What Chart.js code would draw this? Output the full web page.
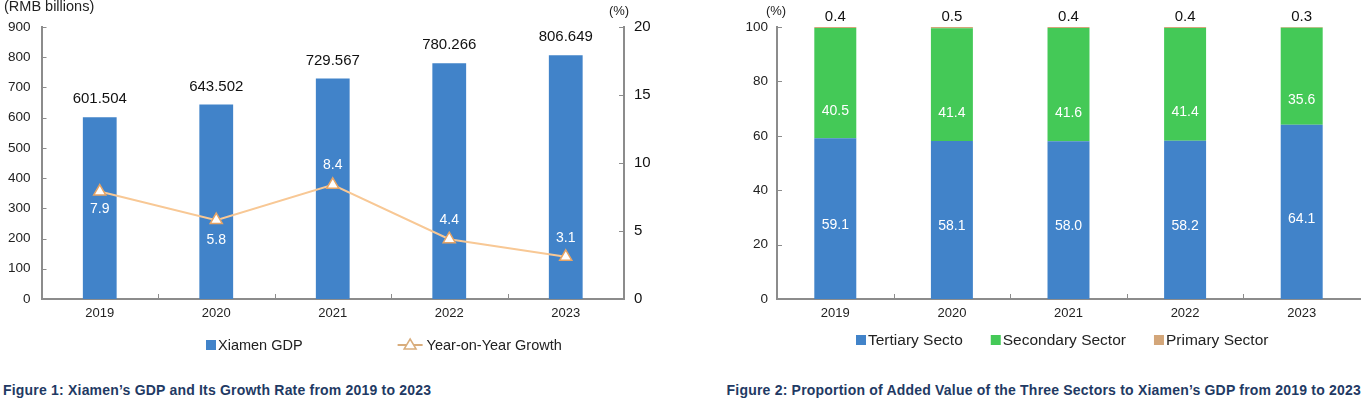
<!DOCTYPE html>
<html>
<head>
<meta charset="utf-8">
<script src="https://cdn.jsdelivr.net/npm/chart.js@4.4.1/dist/chart.umd.min.js"></script>
<style>
    html, body { margin: 0; padding: 0; background: #fff; width: 1362px; height: 399px; overflow: hidden; }
    body { font-family: "Liberation Sans", Arial, sans-serif; }
    #gdp-wrap { position: absolute; left: 0; top: 0; width: 680px; height: 362px; }
    #sector-wrap { position: absolute; left: 690px; top: 0; width: 672px; height: 362px; }
    .caption { position: absolute; top: 382px; font-weight: bold; font-size: 14px; letter-spacing: 0.2px; color: #1f3a64; white-space: nowrap; }
</style>
</head>
<body>
<div id="gdp-wrap"><canvas id="gdp-chart"></canvas></div>
<div id="sector-wrap"><canvas id="sector-chart"></canvas></div>
<div class="caption" style="left:3px">Figure 1: Xiamen’s GDP and Its Growth Rate from 2019 to 2023</div>
<div class="caption" style="right:1px">Figure 2: Proportion of Added Value of the Three Sectors to Xiamen’s GDP from 2019 to 2023</div>

<script>
const years = ['2019', '2020', '2021', '2022', '2023'];
const gdpValues = [601.504, 643.502, 729.567, 780.266, 806.649];
const growthValues = [7.9, 5.8, 8.4, 4.4, 3.1];
const gdpTicks = [0, 100, 200, 300, 400, 500, 600, 700, 800, 900];
const growthTicks = [0, 5, 10, 15, 20];
const tertiaryShare = [59.1, 58.1, 58.0, 58.2, 64.1];
const secondaryShare = [40.5, 41.4, 41.6, 41.4, 35.6];
const primaryShare = [0.4, 0.5, 0.4, 0.4, 0.3];
const shareTicks = [0, 20, 40, 60, 80, 100];

const BLUE = '#4183c9';
const GREEN = '#44c957';
const TAN = '#d3a679';
const LINE = '#f8c895';
const AXIS = '#8c8c8c';
const FONT = "'Liberation Sans', Arial, sans-serif";

Chart.defaults.font.family = FONT;
Chart.defaults.animation = false;

// short tick marks pointing into the plot, like the original
const innerTicks = {
    id: 'innerTicks',
    afterDraw(chart) {
        const ctx = chart.ctx;
        const area = chart.chartArea;
        ctx.save();
        ctx.strokeStyle = AXIS;
        ctx.lineWidth = 1;
        ctx.beginPath();
        Object.values(chart.scales).forEach(s => {
            if (s.axis === 'y') {
                const left = s.position === 'left';
                const x = left ? area.left : area.right;
                s.ticks.forEach((t, i) => {
                    const y = Math.round(s.getPixelForTick(i)) + 0.5;
                    ctx.moveTo(x, y);
                    ctx.lineTo(left ? x + 5 : x - 5, y);
                });
            } else {
                for (let i = 1; i < s.ticks.length; i++) {
                    const x = Math.round((s.getPixelForTick(i - 1) + s.getPixelForTick(i)) / 2) + 0.5;
                    ctx.moveTo(x, area.bottom);
                    ctx.lineTo(x, area.bottom - 5);
                }
            }
        });
        ctx.stroke();
        ctx.restore();
    }
};

// value labels, placement set per dataset in labelStyle
const valueLabels = {
    id: 'valueLabels',
    afterDatasetsDraw(chart) {
        const ctx = chart.ctx;
        chart.data.datasets.forEach((ds, di) => {
            const lab = ds.labelStyle;
            if (!lab) return;
            const meta = chart.getDatasetMeta(di);
            ctx.save();
            ctx.font = lab.font;
            ctx.fillStyle = lab.color;
            ctx.textAlign = 'center';
            ctx.textBaseline = 'middle';
            meta.data.forEach((el, i) => {
                let y;
                if (lab.mode === 'top') {
                    y = el.y - lab.offset;
                } else if (lab.mode === 'point') {
                    y = el.y + lab.offsets[i];
                } else {
                    y = el.y + (el.base - el.y) * lab.ratio;
                }
                ctx.fillText(ds.data[i].toFixed(lab.digits), el.x, y);
            });
            ctx.restore();
        });
    }
};

// legend and unit notes drawn at fixed spots
const sideText = {
    id: 'sideText',
    afterDraw(chart, args, opts) {
        const ctx = chart.ctx;
        ctx.save();
        ctx.textBaseline = 'middle';
        (opts.notes || []).forEach(n => {
            ctx.font = n.font;
            ctx.fillStyle = n.color;
            ctx.textAlign = n.align || 'left';
            ctx.fillText(n.text, n.x, n.y);
        });
        const lg = opts.legend;
        if (lg) {
            ctx.font = lg.font;
            ctx.textAlign = 'left';
            let x = lg.x;
            chart.data.datasets.forEach(ds => {
                if (ds.type === 'line') {
                    ctx.strokeStyle = '#d9ad7c';
                    ctx.lineWidth = 2;
                    ctx.beginPath();
                    ctx.moveTo(x, lg.y);
                    ctx.lineTo(x + 25, lg.y);
                    ctx.stroke();
                    ctx.fillStyle = '#fff';
                    ctx.lineWidth = 1.5;
                    ctx.beginPath();
                    ctx.moveTo(x + 12.5, lg.y - 6);
                    ctx.lineTo(x + 18.5, lg.y + 4);
                    ctx.lineTo(x + 6.5, lg.y + 4);
                    ctx.closePath();
                    ctx.fill();
                    ctx.stroke();
                    x += 29;
                } else {
                    ctx.fillStyle = ds.backgroundColor;
                    ctx.fillRect(x, lg.y - 5, 10, 10);
                    x += 12;
                }
                ctx.fillStyle = '#222';
                ctx.fillText(ds.label, x, lg.y + 1);
                x += ctx.measureText(ds.label).width + lg.gap;
            });
        }
        ctx.restore();
    }
};

const gdpCanvas = document.getElementById('gdp-chart');
new Chart(gdpCanvas, {
    data: {
        labels: years,
        datasets: [{
            type: 'bar',
            label: 'Xiamen GDP',
            data: gdpValues,
            yAxisID: 'yGdp',
            backgroundColor: BLUE,
            barPercentage: 0.29,
            categoryPercentage: 1,
            order: 1,
            labelStyle: { mode: 'top', offset: 18, font: '15px ' + FONT, color: '#111', digits: 3 }
        }, {
            type: 'line',
            label: 'Year-on-Year Growth',
            data: growthValues,
            yAxisID: 'yRate',
            borderColor: LINE,
            borderWidth: 2,
            pointStyle: 'triangle',
            pointRadius: 7,
            pointBackgroundColor: '#fff',
            pointBorderColor: '#e6a465',
            pointBorderWidth: 1.5,
            order: 0,
            labelStyle: { mode: 'point', offsets: [18, 20, -20, -19, -19], font: '14px ' + FONT, color: '#fff', digits: 1 }
        }]
    },
    options: {
        responsive: true,
        maintainAspectRatio: false,
        layout: { padding: { top: 27, right: 0, bottom: 0, left: 0 } },
        events: [],
        scales: {
            x: {
                grid: { display: false, drawTicks: false },
                border: { color: AXIS, width: 2 },
                ticks: { color: '#222', font: { size: 13 }, padding: 7 },
                afterFit: s => { s.height = 63; }
            },
            yGdp: {
                position: 'left',
                min: gdpTicks[0],
                max: gdpTicks[gdpTicks.length - 1],
                afterBuildTicks: s => { s.ticks = gdpTicks.map(v => ({ value: v })); },
                grid: { display: false, drawTicks: false },
                border: { color: AXIS, width: 2 },
                ticks: { color: '#222', font: { size: 13.5 }, padding: 11 },
                afterFit: s => { s.width = 41.5; }
            },
            yRate: {
                position: 'right',
                min: growthTicks[0],
                max: growthTicks[growthTicks.length - 1],
                afterBuildTicks: s => { s.ticks = growthTicks.map(v => ({ value: v })); },
                grid: { display: false, drawTicks: false },
                border: { color: AXIS, width: 2 },
                ticks: { color: '#111', font: { size: 15 }, padding: 10 },
                afterFit: s => { s.width = 56; }
            }
        },
        plugins: {
            legend: { display: false },
            tooltip: { enabled: false },
            sideText: {
                notes: [
                    { text: '(RMB billions)', x: 4, y: 7, font: '14.5px ' + FONT, color: '#222' },
                    { text: '(%)', x: 619, y: 11, font: '13px ' + FONT, color: '#222', align: 'center' }
                ],
                legend: { x: 206, y: 345, gap: 95, font: '14.5px ' + FONT }
            }
        }
    },
    plugins: [innerTicks, valueLabels, sideText]
});

// legend order of the sector chart runs bottom-up through the stack
const sectorCanvas = document.getElementById('sector-chart');
new Chart(sectorCanvas, {
    type: 'bar',
    data: {
        labels: years,
        datasets: [{
            label: 'Tertiary Secto',
            data: tertiaryShare,
            backgroundColor: BLUE,
            labelStyle: { mode: 'inside', ratio: 0.54, font: '14px ' + FONT, color: '#fff', digits: 1 }
        }, {
            label: 'Secondary Sector',
            data: secondaryShare,
            backgroundColor: GREEN,
            labelStyle: { mode: 'inside', ratio: 0.75, font: '14px ' + FONT, color: '#fff', digits: 1 }
        }, {
            label: 'Primary Sector',
            data: primaryShare,
            backgroundColor: TAN,
            labelStyle: { mode: 'top', offset: 10, font: '15px ' + FONT, color: '#111', digits: 1 }
        }]
    },
    options: {
        responsive: true,
        maintainAspectRatio: false,
        layout: { padding: { top: 27, right: 2, bottom: 0, left: 0 } },
        events: [],
        datasets: { bar: { barPercentage: 0.36, categoryPercentage: 1 } },
        scales: {
            x: {
                stacked: true,
                grid: { display: false, drawTicks: false },
                border: { color: AXIS, width: 2 },
                ticks: { color: '#222', font: { size: 13 }, padding: 7 },
                afterFit: s => { s.height = 63; }
            },
            y: {
                stacked: true,
                min: shareTicks[0],
                max: shareTicks[shareTicks.length - 1],
                afterBuildTicks: s => { s.ticks = shareTicks.map(v => ({ value: v })); },
                grid: { display: false, drawTicks: false },
                border: { color: AXIS, width: 2 },
                ticks: { color: '#222', font: { size: 13.5 }, padding: 9 },
                afterFit: s => { s.width = 87; }
            }
        },
        plugins: {
            legend: { display: false },
            tooltip: { enabled: false },
            sideText: {
                notes: [
                    { text: '(%)', x: 86, y: 11, font: '13px ' + FONT, color: '#222', align: 'center' }
                ],
                legend: { x: 166, y: 340, gap: 28, font: '15.5px ' + FONT }
            }
        }
    },
    plugins: [innerTicks, valueLabels, sideText]
});
</script>
</body>
</html>
